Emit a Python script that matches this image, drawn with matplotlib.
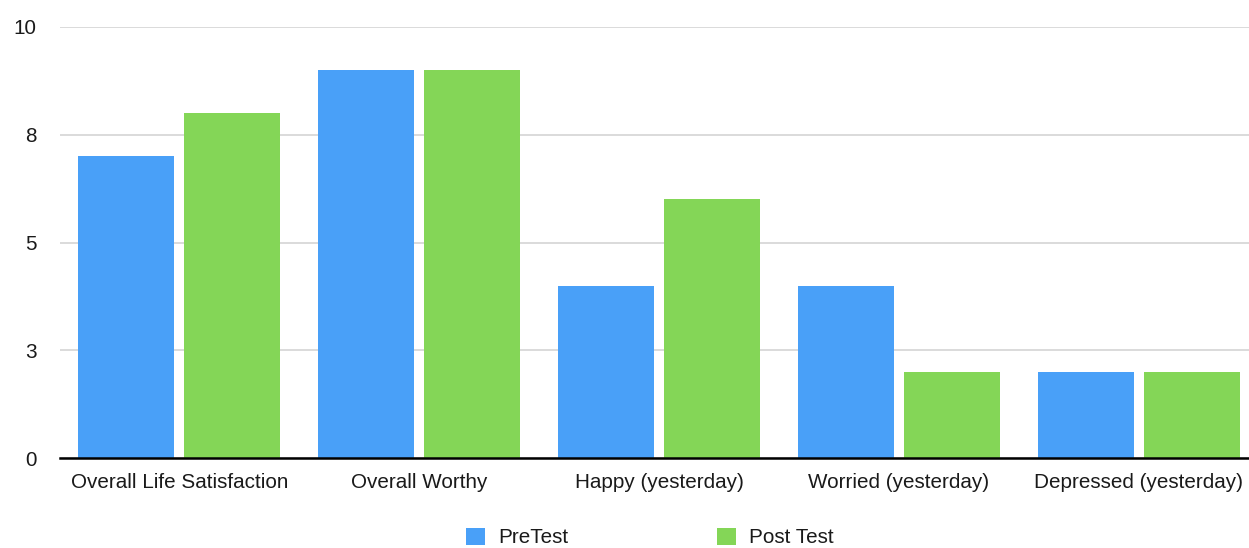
import matplotlib
matplotlib.use("Agg")
import matplotlib.pyplot as plt
import numpy as np

categories = ["Overall Life Satisfaction", "Overall Worthy", "Happy (yesterday)",
              "Worried (yesterday)", "Depressed (yesterday)"]
pre_test = [7, 9, 4, 4, 2]
post_test = [8, 9, 6, 2, 2]
series_names = ["PreTest", "Post Test"]
y_ticks = [0, 2.5, 5, 7.5, 10]
y_tick_labels = ["0", "3", "5", "8", "10"]

BLUE = "#49a0f8"
GREEN = "#84d657"
FS = 14.9

plt.rcParams["font.family"] = ["Liberation Sans", "DejaVu Sans"]

W, H = 1249, 548
fig = plt.figure(figsize=(W / 100, H / 100), dpi=100)
ax = fig.add_axes([59.5 / W, (H - 458) / H, 1199 / W, (458 - 27) / H])

x = np.arange(len(categories))
width = 0.40
off = 0.221
ax.bar(x - off, pre_test, width, color=BLUE, label=series_names[0], zorder=3)
ax.bar(x + off, post_test, width, color=GREEN, label=series_names[1], zorder=3)

ax.set_xlim(-0.5, len(categories) - 0.5)
ax.set_ylim(0, 10)
ax.set_yticks(y_ticks)
ax.set_yticklabels(y_tick_labels)
ax.set_xticks(x)
ax.set_xticklabels(categories)
ax.tick_params(axis="both", length=0, labelsize=FS, colors="#1a1a1a")
ax.tick_params(axis="y", pad=16.5)
ax.tick_params(axis="x", pad=10.5)

for s in ["top", "right", "left"]:
    ax.spines[s].set_visible(False)
ax.spines["bottom"].set_color("black")
ax.spines["bottom"].set_linewidth(1.8)
ax.spines["bottom"].set_zorder(4)

ax.yaxis.grid(True, color="#d4d4d4", linewidth=1.2, zorder=0)
ax.set_axisbelow(True)

leg = fig.legend(loc="center", bbox_to_anchor=(649.7 / W, (H - 537.5) / H),
                 ncol=2, frameon=False, fontsize=FS,
                 handlelength=0.92, handleheight=0.92, handletextpad=0.63,
                 columnspacing=7.2, borderpad=0, borderaxespad=0)
for t in leg.get_texts():
    t.set_color("#1a1a1a")

fig.savefig("out.png", dpi=100)
